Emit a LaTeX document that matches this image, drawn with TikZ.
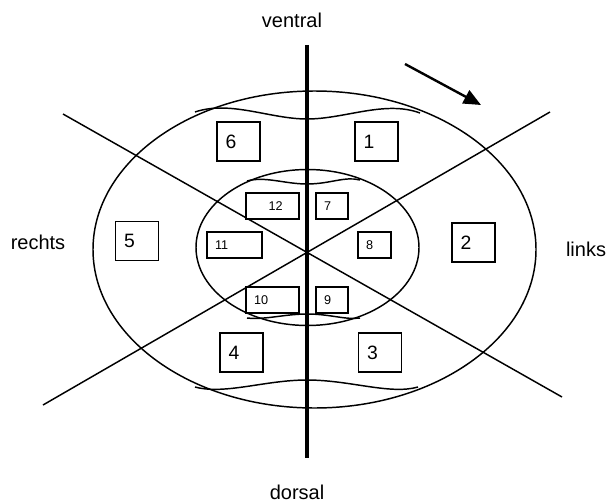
\documentclass[tikz,border=0pt]{standalone}
\usepackage{fontspec}
\setmainfont{Liberation Sans}
\usetikzlibrary{arrows.meta}

\begin{document}
\begin{tikzpicture}[
        x=0.75pt, y=-0.75pt,
        lijn/.style={line width=1.1pt},
        as/.style={line width=2.4pt},
        label/.style={font=\fontsize{15}{18}\selectfont},
        grootvak/.style={
            draw, line width=1.1pt,
            minimum width=32.25pt, minimum height=29.25pt,
            inner xsep=6.5pt, text width=19.25pt, align=left,
            font=\fontsize{14.5}{17}\selectfont
        },
        kleinvak/.style={
            draw, line width=1.1pt,
            minimum height=19.5pt,
            inner xsep=6pt, align=left,
            font=\fontsize{9.5}{11}\selectfont
        },
        pijl/.style={-{Triangle[length=13pt, width=11pt]}, line width=1.8pt}
    ]
    \useasboundingbox (0,0) rectangle (609,503);

    % richtingen
    \node[label] (ventral) at (292,20) {ventral};
    \node[label] (dorsal) at (297,492) {dorsal};
    \node[label] (rechts) at (38,242) {rechts};
    \node[label] (links) at (586,249) {links};

    % ringen
    \draw[lijn] (314.5,249.5) ellipse [x radius=221.5, y radius=158.5];
    \draw[lijn] (307.5,247.5) ellipse [x radius=111.5, y radius=78];

    % golflijnen
    \draw[lijn] (195,112) .. controls (230,100) and (270,119) .. (307,119)
                          .. controls (345,119) and (385,100) .. (420,113);
    \draw[lijn] (195,387) .. controls (225,395) and (265,380) .. (307,380)
                          .. controls (350,380) and (390,395) .. (418,387);
    \draw[lijn] (247,181) .. controls (265,176) and (285,184) .. (307,184)
                          .. controls (330,184) and (345,176) .. (360,180);
    \draw[lijn] (247,318) .. controls (265,320) and (285,314) .. (307,314)
                          .. controls (330,314) and (345,320) .. (360,318);

    % diagonalen en as
    \coordinate (d1a) at (63,114);
    \coordinate (d1b) at (562,397);
    \coordinate (d2a) at (43,405);
    \coordinate (d2b) at (550,112);
    \coordinate (vtop) at (307,45);
    \coordinate (vbot) at (307,458);
    \draw[lijn] (d1a) -- (d1b);
    \draw[lijn] (d2a) -- (d2b);
    \draw[as] (vtop) -- (vbot);

    % buitenste vakken
    \node[grootvak, fill=white] (v6) at (238.5,141.5) {6};
    \node[grootvak, fill=white] (v1) at (376.5,141.5) {1};
    \node[grootvak, fill=white] (v5) at (137,241) {5};
    \node[grootvak, fill=white] (v2) at (473.5,242.5) {2};
    \node[grootvak, fill=white] (v4) at (241.5,352.5) {4};
    \node[grootvak, fill=white] (v3) at (380,352.5) {3};

    % binnenste vakken
    \node[kleinvak, fill=white, text width=27.75pt, inner xsep=6pt] (v12) at (272.5,206) {\hspace{11pt}12};
    \node[kleinvak, fill=white, text width=12pt] (v7) at (332,206) {7};
    \node[kleinvak, fill=white, text width=29.25pt] (v11) at (234.5,245) {11};
    \node[kleinvak, fill=white, text width=12.75pt] (v8) at (374.5,245) {8};
    \node[kleinvak, fill=white, text width=27.75pt] (v10) at (272.5,300) {10};
    \node[kleinvak, fill=white, text width=12pt] (v9) at (332,300) {9};

    % draairichting
    \coordinate (pstart) at (405,64);
    \coordinate (peind) at (481,105);
    \draw[pijl] (pstart) -- (peind);
\end{tikzpicture}
\end{document}
